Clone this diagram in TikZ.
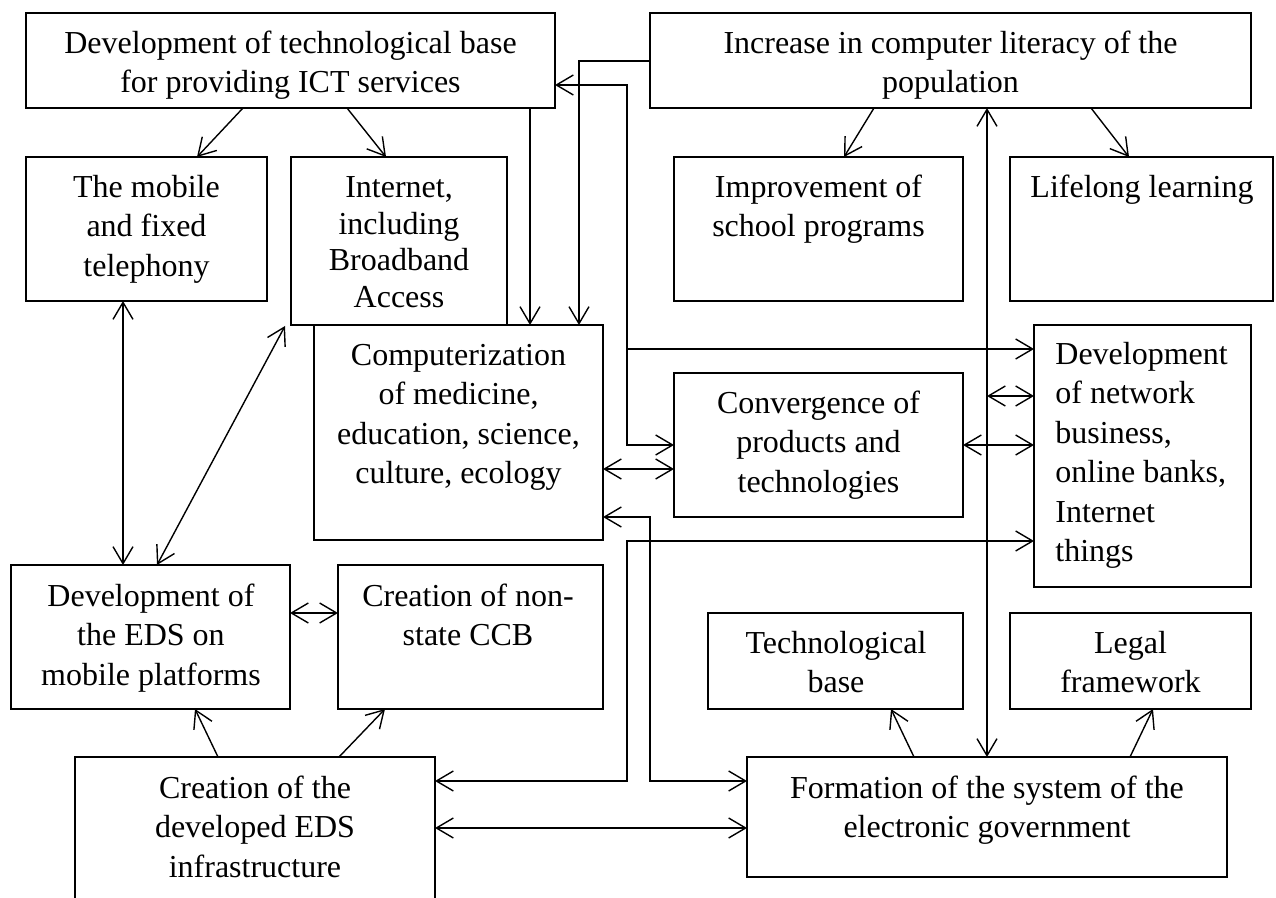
\documentclass[tikz,border=0pt]{standalone}
\usepackage{fontspec}
\setmainfont{Liberation Serif}
\usetikzlibrary{arrows.meta,fit}
\newcommand\bx[6]{\coordinate (#1-nw) at (#3,#4); \coordinate (#1-se) at (#5,#6); \node[#2, fit=(#1-nw)(#1-se)] (#1) {};}
\newcommand\ts{\rule{0pt}{13.8pt}}
\newcommand\tx[5]{\node[txt,yshift=13.8pt,#2] (#1) at (#3,#4) {\ts #5};}
\begin{document}
\begin{tikzpicture}[x=0.5pt,y=-0.5pt,
  box/.style={draw, inner sep=0pt, outer sep=0pt},
  thk/.style={box, line width=1.4pt},
  thn/.style={box, line width=1pt},
  txt/.style={font=\fontsize{16pt}{19.75pt}\selectfont, align=center, inner sep=0pt, anchor=north},
  vb/.tip={Straight Barb[length=8.5pt,width=10pt]},
  arr/.style={-vb, line width=0.7pt},
  dbl/.style={vb-vb, line width=0.7pt}]
\clip (0,0) rectangle (1276,898);
% boxes
\bx{A}{thk}{26}{13}{555}{108}
\bx{B}{thk}{650}{13}{1251}{108}
\bx{C}{thn}{26}{157}{267}{301}
\bx{E}{thk}{314}{325}{603}{540}
\bx{D}{thn}{291}{157}{507}{325}
\bx{F}{thn}{674}{157}{963}{301}
\bx{G}{thn}{1010}{157}{1273}{301}
\bx{H}{thk}{1034}{325}{1251}{587}
\bx{I}{thk}{674}{373}{963}{517}
\bx{N}{thn}{11}{565}{290}{709}
\bx{O}{thn}{338}{565}{603}{709}
\bx{L}{thn}{708}{613}{963}{709}
\bx{M}{thn}{1010}{613}{1251}{709}
\bx{K}{thk}{75}{757}{435}{920}
\bx{J}{thk}{747}{757}{1227}{877}
% texts
\tx{At}{}{290.5}{53}{Development of technological base\\for providing ICT services}
\tx{Bt}{}{950.5}{53}{Increase in computer literacy of the\\population}
\tx{Ct}{}{146.5}{197}{The mobile\\and fixed\\telephony}
\tx{Dt}{font=\fontsize{16pt}{18.4pt}\selectfont}{399}{197}{Internet,\\including\\Broadband\\Access}
\tx{Et}{}{458.5}{365}{Computerization\\of medicine,\\education, science,\\culture, ecology}
\tx{Ft}{}{818.5}{197}{Improvement of\\school programs}
\tx{Gt}{}{1142}{197}{Lifelong learning}
\tx{Ht}{align=left,anchor=north west}{1055}{364}{Development\\of network\\business,\\online banks,\\Internet\\things}
\tx{It}{}{818.5}{413}{Convergence of\\products and\\technologies}
\tx{Nt}{}{151}{606}{Development of\\the EDS on\\mobile platforms}
\tx{Ot}{}{468}{606}{Creation of non-\\state CCB}
\tx{Lt}{}{836}{653}{Technological\\base}
\tx{Mt}{}{1130.5}{653}{Legal\\framework}
\tx{Kt}{}{255}{798}{Creation of the\\developed EDS\\infrastructure}
\tx{Jt}{}{987}{798}{Formation of the system of the\\electronic government}
% connectors
\coordinate (j1) at (627,349);
\coordinate (v1) at (987,396);
\draw[arr] (A.south -| 243,0) -- (C.north -| 197,0);
\draw[arr] (A.south -| 347,0) -- (D.north -| 386,0);
\draw[arr] (A.south -| 530,0) -- (E.north -| 530,0);
\draw[arr] (B.west |- 0,61) -| (E.north -| 579,0);
\draw[dbl] (A.east |- 0,85) -| (627,445) -- (I.west |- 0,445);
\draw[arr] (j1) -- (H.west |- j1);
\draw[dbl] (B.south -| 987,0) -- (J.north -| 987,0);
\draw[arr] (B.south -| 874,0) -- (F.north -| 844,0);
\draw[arr] (B.south -| 1091,0) -- (G.north -| 1129,0);
\draw[dbl] (v1) -- (H.west |- v1);
\draw[dbl] (I.east |- 0,445) -- (H.west |- 0,445);
\draw[dbl] (E.east |- 0,469) -- (I.west |- 0,469);
\draw[dbl] (E.east |- 0,517) -| (650,781) -- (J.west |- 0,781);
\draw[dbl] (H.west |- 0,541) -| (627,781) -- (K.east |- 0,781);
\draw[dbl] (K.east |- 0,828) -- (J.west |- 0,828);
\draw[arr] (K.north -| 218,0) -- (N.south -| 195,0);
\draw[arr] (K.north -| 339,0) -- (O.south -| 385,0);
\draw[dbl] (N.east |- 0,613) -- (O.west |- 0,613);
\draw[dbl] (C.south -| 123,0) -- (N.north -| 123,0);
\draw[dbl] (N.north -| 157,0) -- ([xshift=-3pt,yshift=-0.5pt]D.south west);
\draw[arr] (J.north -| 914,0) -- (L.south -| 891,0);
\draw[arr] (J.north -| 1130,0) -- (M.south -| 1153,0);
\end{tikzpicture}
\end{document}
